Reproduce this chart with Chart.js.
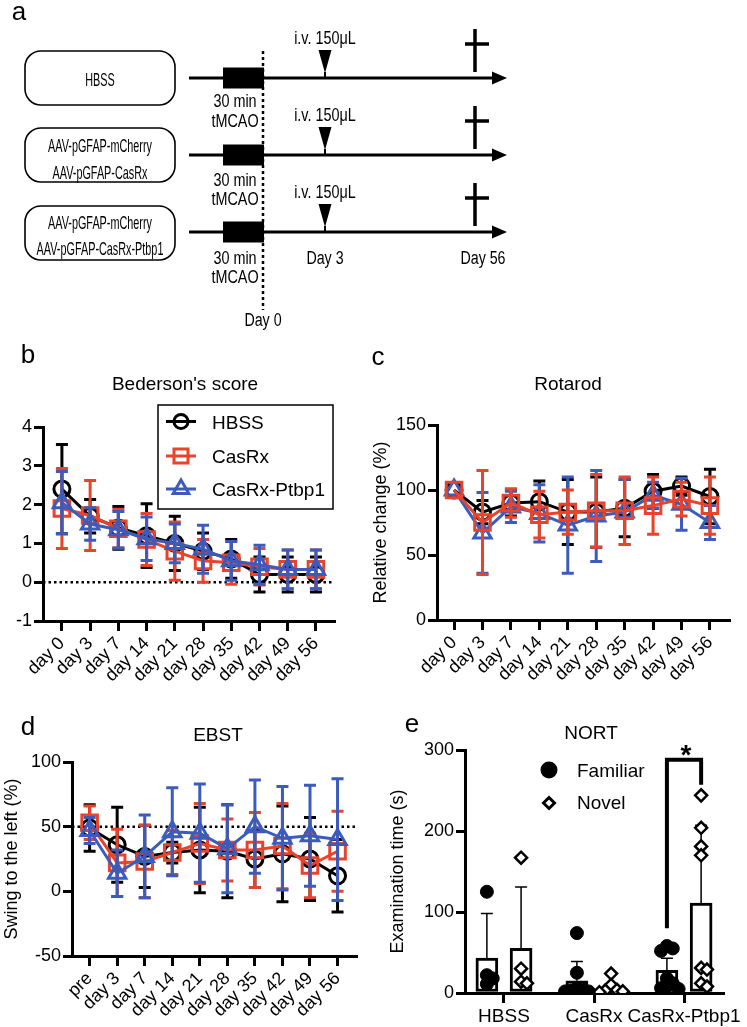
<!DOCTYPE html>
<html>
<head>
<meta charset="utf-8">
<script src="https://cdn.jsdelivr.net/npm/chart.js@4.4.1/dist/chart.umd.min.js"></script>
<style>
  html, body { margin: 0; padding: 0; background: #fff; }
  body { position: relative; width: 747px; height: 1027px; overflow: hidden;
         font-family: 'Liberation Sans', Arial, Helvetica, sans-serif; }
  canvas { position: absolute; }
  .txt { position: absolute; white-space: nowrap; line-height: 1; color: #000; }
</style>
</head>
<body>
<canvas id="schema" width="747" height="330" style="left:0px;top:0px"></canvas>
<canvas id="bederson" width="370" height="380" style="left:0px;top:330px"></canvas>
<canvas id="rotarod" width="377" height="380" style="left:370px;top:330px"></canvas>
<canvas id="ebst" width="370" height="327" style="left:0px;top:700px"></canvas>
<canvas id="nort" width="377" height="327" style="left:370px;top:700px"></canvas>

<script>
// ---------- data ----------
const dayLabels  = ['day 0', 'day 3', 'day 7', 'day 14', 'day 21', 'day 28', 'day 35', 'day 42', 'day 49', 'day 56'];
const ebstLabels = ['pre', 'day 3', 'day 7', 'day 14', 'day 21', 'day 28', 'day 35', 'day 42', 'day 49', 'day 56'];
const groupNames = ['HBSS', 'CasRx', 'CasRx-Ptbp1'];

// Bederson's score (mean, SD)
const bedHbss    = [2.4, 1.7, 1.4, 1.2, 1.0, 0.8, 0.6, 0.2, 0.2, 0.2];
const bedHbssSd  = [1.15, 0.43, 0.55, 0.82, 0.7, 0.47, 0.5, 0.45, 0.45, 0.45];
const bedCasrx   = [1.9, 1.72, 1.38, 1.1, 0.8, 0.55, 0.5, 0.4, 0.33, 0.33];
const bedCasrxSd = [1.03, 0.9, 0.5, 0.67, 0.75, 0.55, 0.55, 0.47, 0.5, 0.5];
const bedPtbp1   = [2.05, 1.5, 1.35, 1.12, 1.0, 0.85, 0.55, 0.45, 0.33, 0.33];
const bedPtbp1Sd = [0.8, 0.42, 0.47, 0.56, 0.5, 0.62, 0.5, 0.5, 0.5, 0.5];

// Rotarod, relative change (%)
const rotHbss    = [100, 83, 90, 91, 83, 83, 86, 99, 103, 95];
const rotHbssSd  = [0, 9, 10, 16, 25, 27, 22, 13, 7, 21];
const rotCasrx   = [100, 75, 90, 81, 83, 84, 84, 88, 93, 88];
const rotCasrxSd = [0, 40, 11, 18, 17, 28, 26, 22, 13, 22];
const rotPtbp1   = [100, 67, 87, 82, 73, 80, 83, 96, 89, 75];
const rotPtbp1Sd = [0, 31, 12, 22, 37, 35, 25, 10, 20, 13];

// EBST, swing to the left (%)
const ebHbss    = [49, 36, 27, 30, 32, 31, 25, 29, 25, 12];
const ebHbssSd  = [18, 29, 24, 8, 33, 36, 22, 37, 32, 28];
const ebCasrx   = [53, 22, 23, 30, 37, 32, 32, 35, 20, 31];
const ebCasrxSd = [13, 26, 28, 17, 31, 24, 29, 33, 25, 31];
const ebPtbp1   = [47, 14, 27, 46, 45, 33, 50, 41, 43, 40];
const ebPtbp1Sd = [10, 18, 32, 34, 38, 34, 36, 40, 39, 47];

// NORT examination time (s)
const famMean = [43, 15, 28];
const famSd   = [55, 24, 15];
const novMean = [55, 5, 111];
const novSd   = [76, 5, 96];
const famPoints = [[125, 22, 18, 11], [74, 25, 6, 4, 3, 2, 2, 1], [58, 55, 52, 18, 12, 8, 6, 5]];
const novPoints = [[167, 30, 14, 12], [24, 10, 4, 3, 2, 1], [244, 204, 181, 170, 31, 29, 12, 8]];
const sigBracket = { from: 80, top: 288, to: 257 };

// ---------- styling ----------
const FONT = "'Liberation Sans', Arial, Helvetica, sans-serif";
const RED = '#e8432b';
const BLUE = '#3b5bbd';
const BLACK = '#000000';
const LW = 3;
Chart.defaults.font.family = FONT;
Chart.defaults.font.size = 18;
Chart.defaults.color = '#000';

// ---------- plugins ----------
function drawErrors(chart, idx) {
  const ds = chart.data.datasets[idx];
  if (!ds.errors) return;
  const meta = chart.getDatasetMeta(idx);
  const ys = chart.scales.y;
  const ctx = chart.ctx;
  const cap = ds.errorCap || 6;
  ctx.save();
  ctx.strokeStyle = ds.errorColor || ds.borderColor;
  ctx.lineWidth = ds.errorWidth || LW;
  ctx.beginPath();
  meta.data.forEach((el, i) => {
    const sd = ds.errors[i];
    if (!sd) return;
    const v = ds.data[i].y;
    const top = ys.getPixelForValue(v + sd);
    const bot = ys.getPixelForValue(ds.upperOnly ? v : v - sd);
    ctx.moveTo(el.x, top); ctx.lineTo(el.x, bot);
    ctx.moveTo(el.x - cap, top); ctx.lineTo(el.x + cap, top);
    if (!ds.upperOnly) { ctx.moveTo(el.x - cap, bot); ctx.lineTo(el.x + cap, bot); }
  });
  ctx.stroke();
  ctx.restore();
}

const errorBars = {
  id: 'errorBars',
  beforeDatasetDraw(chart, args) { if (!chart.data.datasets[args.index].errorsOnTop) drawErrors(chart, args.index); },
  afterDatasetDraw(chart, args) { if (chart.data.datasets[args.index].errorsOnTop) drawErrors(chart, args.index); }
};

const refLine = {
  id: 'refLine',
  beforeDatasetsDraw(chart, args, opts) {
    if (opts.value === undefined) return;
    const { ctx, chartArea: a } = chart;
    const py = chart.scales.y.getPixelForValue(opts.value);
    ctx.save();
    ctx.setLineDash([2.5, 3]);
    ctx.lineWidth = 2.5;
    ctx.strokeStyle = '#000';
    ctx.beginPath(); ctx.moveTo(a.left, py); ctx.lineTo(a.right, py); ctx.stroke();
    ctx.restore();
  }
};

function marker(ctx, style, x, y, r, color, fill) {
  ctx.save();
  ctx.strokeStyle = color;
  ctx.fillStyle = fill || 'rgba(0,0,0,0)';
  ctx.lineWidth = LW;
  ctx.beginPath();
  if (style === 'circle') ctx.arc(x, y, r, 0, Math.PI * 2);
  else if (style === 'rect') ctx.rect(x - r, y - r, 2 * r, 2 * r);
  else if (style === 'triangle') { ctx.moveTo(x, y - r); ctx.lineTo(x + r * 0.866, y + r / 2); ctx.lineTo(x - r * 0.866, y + r / 2); ctx.closePath(); }
  else if (style === 'rectRot') { ctx.moveTo(x, y - r); ctx.lineTo(x + r, y); ctx.lineTo(x, y + r); ctx.lineTo(x - r, y); ctx.closePath(); }
  if (fill) ctx.fill();
  ctx.stroke();
  ctx.restore();
}

// legend box of panel b (text is html)
const bLegend = {
  id: 'bLegend',
  afterDraw(chart) {
    const ctx = chart.ctx;
    ctx.save();
    ctx.lineWidth = 1.5;
    ctx.strokeStyle = '#000';
    ctx.strokeRect(158, 75, 175, 104);
    const rows = [[91.5, BLACK, 'circle', 7], [126, RED, 'rect', 7], [159, BLUE, 'triangle', 9]];
    rows.forEach(([y, c, s, r]) => {
      ctx.strokeStyle = c; ctx.lineWidth = LW;
      ctx.beginPath(); ctx.moveTo(166, y); ctx.lineTo(196, y); ctx.stroke();
      marker(ctx, s, 181, y, r, c);
    });
    ctx.restore();
  }
};

// ---------- axes ----------
function yAxis(min, max, step, width, title, titlePad) {
  return {
    type: 'linear', min, max,
    ticks: { stepSize: step, padding: 2 },
    grid: { drawOnChartArea: false, tickLength: 9, color: '#000', lineWidth: 3 },
    border: { color: '#000', width: 3 },
    title: title ? { display: true, text: title, font: { size: 18 }, padding: { top: titlePad, bottom: 0 } } : { display: false },
    afterFit(s) { s.width = width; }
  };
}

function xAxis(labels, min, max, height, rotate, fontSize) {
  return {
    type: 'linear', min, max, offset: false,
    afterBuildTicks(s) { s.ticks = labels.map((_, i) => ({ value: i })); },
    ticks: { callback: v => labels[v], autoSkip: false, maxRotation: rotate, minRotation: rotate, padding: 2, font: { size: fontSize || 18 } },
    grid: { offset: false, drawOnChartArea: false, tickLength: 10, color: '#000', lineWidth: 3 },
    border: { color: '#000', width: 3 },
    afterFit(s) { s.height = height; }
  };
}

function series(label, values, sds, color, style, radius, order) {
  return {
    label, order,
    data: values.map((v, i) => ({ x: i, y: v })),
    errors: sds,
    borderColor: color, borderWidth: LW, tension: 0,
    pointStyle: style, pointRadius: radius,
    pointBorderColor: color, pointBackgroundColor: 'rgba(0,0,0,0)', pointBorderWidth: LW
  };
}

function timeChart(id, datasets, xCfg, yCfg, pad, refValue, extra) {
  return new Chart(document.getElementById(id), {
    type: 'line',
    data: { datasets },
    options: {
      responsive: false, animation: false, devicePixelRatio: 1,
      layout: { padding: pad },
      scales: { x: xCfg, y: yCfg },
      plugins: { legend: { display: false }, tooltip: { enabled: false }, refLine: { value: refValue } }
    },
    plugins: [errorBars, refLine].concat(extra || [])
  });
}

// ---------- panel b ----------
timeChart('bederson', [
    series('HBSS', bedHbss, bedHbssSd, BLACK, 'circle', 8, 2),
    series('CasRx', bedCasrx, bedCasrxSd, RED, 'rect', 11, 1),
    series('CasRx-Ptbp1', bedPtbp1, bedPtbp1Sd, BLUE, 'triangle', 10, 0)
  ],
  xAxis(dayLabels, -0.67, 9.64, 89, 45),
  yAxis(-1, 4, 1, 43),
  { top: 97, right: 36, left: 0, bottom: 0 }, 0, [bLegend]);

// ---------- panel c ----------
timeChart('rotarod', [
    series('HBSS', rotHbss, rotHbssSd, BLACK, 'circle', 8, 2),
    series('CasRx', rotCasrx, rotCasrxSd, RED, 'rect', 11, 0),
    series('CasRx-Ptbp1', rotPtbp1, rotPtbp1Sd, BLUE, 'triangle', 10, 1)
  ],
  xAxis(dayLabels, -0.6, 9.67, 90, 45),
  yAxis(0, 150, 50, 67, 'Relative change (%)', 0),
  { top: 95, right: 18, left: 0, bottom: 0 });

// ---------- panel d ----------
timeChart('ebst', [
    series('HBSS', ebHbss, ebHbssSd, BLACK, 'circle', 8, 2),
    series('CasRx', ebCasrx, ebCasrxSd, RED, 'rect', 11, 1),
    series('CasRx-Ptbp1', ebPtbp1, ebPtbp1Sd, BLUE, 'triangle', 10, 0)
  ],
  xAxis(ebstLabels, -0.64, 9.67, 71, 45),
  yAxis(-50, 100, 50, 72, 'Swing to the left (%)', 1),
  { top: 62, right: 7, left: 0, bottom: 0 }, 50);

// ---------- panel e ----------
const barShift = 0.19;
function swarm(groups, side) {
  const pts = [];
  groups.forEach((vals, g) => {
    const center = g + side * barShift;
    const placed = [];
    vals.forEach(v => {
      let off = 0;
      for (const t of [0, 1, -1, 2, -2]) {
        off = t * 0.065;
        if (!placed.some(p => Math.abs(p.off - off) < 0.04 && Math.abs(p.v - v) < 10)) break;
      }
      placed.push({ v, off });
      pts.push({ x: center + off, y: v });
    });
  });
  return pts;
}

const sigPlugin = {
  id: 'sig',
  afterDatasetsDraw(chart) {
    const { ctx, scales: { x, y } } = chart;
    const xl = x.getPixelForValue(2 - barShift), xr = x.getPixelForValue(2 + barShift);
    ctx.save();
    ctx.lineWidth = 4; ctx.strokeStyle = '#000'; ctx.lineJoin = 'miter';
    ctx.beginPath();
    ctx.moveTo(xl, y.getPixelForValue(sigBracket.from));
    ctx.lineTo(xl, y.getPixelForValue(sigBracket.top));
    ctx.lineTo(xr, y.getPixelForValue(sigBracket.top));
    ctx.lineTo(xr, y.getPixelForValue(sigBracket.to));
    ctx.stroke();
    // legend markers
    marker(ctx, 'circle', 179, 70, 7, '#000', '#000');
    marker(ctx, 'rectRot', 179, 103, 5.5, '#000', '#fff');
    ctx.restore();
  }
};

function barSet(label, means, sds, side) {
  return {
    type: 'bar', label, order: 2,
    data: means.map((m, i) => ({ x: i + side * barShift, y: m })),
    errors: sds, upperOnly: true, errorsOnTop: true, errorWidth: 1.5, errorCap: 6, errorColor: '#000',
    backgroundColor: '#fff', borderColor: '#000', borderWidth: 3, borderSkipped: false,
    barThickness: 22, grouped: false
  };
}

new Chart(document.getElementById('nort'), {
  type: 'bar',
  data: {
    datasets: [
      { type: 'scatter', label: 'Familiar', order: 0, data: swarm(famPoints, -1),
        pointStyle: 'circle', pointRadius: 6.5, pointBackgroundColor: '#000', pointBorderColor: '#000', pointBorderWidth: 1 },
      { type: 'scatter', label: 'Novel', order: 0, data: swarm(novPoints, 1),
        pointStyle: 'rectRot', pointRadius: 6, pointBackgroundColor: '#fff', pointBorderColor: '#000', pointBorderWidth: 2.5 },
      barSet('Familiar mean', famMean, famSd, -1),
      barSet('Novel mean', novMean, novSd, 1)
    ]
  },
  options: {
    responsive: false, animation: false, devicePixelRatio: 1,
    layout: { padding: { top: 50, right: 24, left: 0, bottom: 0 } },
    scales: {
      x: xAxis(groupNames, -0.433, 2.433, 34, 0, 19),
      y: yAxis(0, 300, 100, 95, 'Examination time (s)', 17)
    },
    plugins: { legend: { display: false }, tooltip: { enabled: false } }
  },
  plugins: [errorBars, sigPlugin]
});

// ---------- panel a (schematic) ----------
function roundRect(ctx, x, y, w, h, r) {
  ctx.beginPath();
  ctx.moveTo(x + r, y);
  ctx.arcTo(x + w, y, x + w, y + h, r);
  ctx.arcTo(x + w, y + h, x, y + h, r);
  ctx.arcTo(x, y + h, x, y, r);
  ctx.arcTo(x, y, x + w, y, r);
  ctx.closePath();
}

const schemaPlugin = {
  id: 'schemaDraw',
  afterDraw(chart) {
    const ctx = chart.ctx;
    ctx.save();
    ctx.strokeStyle = '#000'; ctx.fillStyle = '#000';
    ctx.lineWidth = 1.6;
    [51, 128, 206].forEach(top => { roundRect(ctx, 25, top, 150, 54, 16); ctx.stroke(); });
    [78, 155, 232].forEach(y => {
      ctx.lineWidth = 3;
      ctx.beginPath(); ctx.moveTo(189, y); ctx.lineTo(496, y); ctx.stroke();
      ctx.beginPath(); ctx.moveTo(492, y - 6.5); ctx.lineTo(507, y); ctx.lineTo(492, y + 6.5); ctx.closePath(); ctx.fill();
      ctx.fillRect(223, y - 10.5, 41, 21);
      ctx.beginPath(); ctx.moveTo(318.5, y - 28); ctx.lineTo(331.5, y - 28); ctx.lineTo(325, y - 5); ctx.closePath(); ctx.fill();
      ctx.lineWidth = 2;
      ctx.beginPath(); ctx.moveTo(325, y - 6); ctx.lineTo(325, y); ctx.stroke();
      ctx.lineWidth = 3.5;
      ctx.beginPath();
      ctx.moveTo(475, y - 49); ctx.lineTo(475, y - 6);
      ctx.moveTo(465, y - 34); ctx.lineTo(489, y - 34);
      ctx.stroke();
    });
    ctx.setLineDash([3, 3]);
    ctx.lineWidth = 2.5;
    ctx.beginPath(); ctx.moveTo(263, 51); ctx.lineTo(263, 310); ctx.stroke();
    ctx.restore();
  }
};

new Chart(document.getElementById('schema'), {
  type: 'scatter',
  data: { datasets: [] },
  options: {
    responsive: false, animation: false, devicePixelRatio: 1,
    scales: { x: { display: false }, y: { display: false } },
    plugins: { legend: { display: false }, tooltip: { enabled: false } }
  },
  plugins: [schemaPlugin]
});

// ---------- html text ----------
function put(text, x, y, size, opt) {
  opt = opt || {};
  const el = document.createElement('div');
  el.className = 'txt';
  el.textContent = text;
  el.style.left = x + 'px';
  el.style.top = y + 'px';
  el.style.fontSize = size + 'px';
  if (opt.bold) el.style.fontWeight = 'bold';
  const left = opt.align === 'left';
  el.style.transformOrigin = left ? 'left center' : 'center center';
  el.style.transform = 'translate(' + (left ? '0' : '-50%') + ', -50%)' + (opt.sx ? ' scaleX(' + opt.sx + ')' : '');
  document.body.appendChild(el);
}

// panel letters
put('a', 19, 11, 26);
put('b', 28, 354, 26);
put('c', 378, 356, 26);
put('d', 28, 726, 26);
put('e', 412, 723, 26);

// schematic labels
put('HBSS', 100, 79, 19, { sx: 0.57 });
put('AAV-pGFAP-mCherry', 100, 145, 19, { sx: 0.57 });
put('AAV-pGFAP-CasRx', 100, 172, 19, { sx: 0.57 });
put('AAV-pGFAP-mCherry', 100, 222, 19, { sx: 0.57 });
put('AAV-pGFAP-CasRx-Ptbp1', 100, 248, 19, { sx: 0.57 });
[[101, 121], [180, 199], [258, 277]].forEach(([a, b]) => {
  put('30 min', 235, a, 18, { sx: 0.8 });
  put('tMCAO', 235, b, 18, { sx: 0.8 });
});
[38, 115, 192].forEach(y => put('i.v. 150μL', 325, y, 18, { sx: 0.8 }));
put('Day 3', 325, 258, 18, { sx: 0.79 });
put('Day 56', 483, 258, 18, { sx: 0.79 });
put('Day 0', 263, 320, 18, { sx: 0.79 });

// chart titles
put("Bederson's score", 185, 383, 19);
put('Rotarod', 568, 383, 19);
put('EBST', 218, 734, 19);
put('NORT', 591, 732, 19);

// legends
put('HBSS', 212, 421.5, 19, { align: 'left' });
put('CasRx', 212, 456, 19, { align: 'left' });
put('CasRx-Ptbp1', 212, 489, 19, { align: 'left' });
put('Familiar', 577, 770, 19, { align: 'left' });
put('Novel', 577, 802, 19, { align: 'left' });
put('*', 686, 755, 28, { bold: true });
</script>
</body>
</html>
